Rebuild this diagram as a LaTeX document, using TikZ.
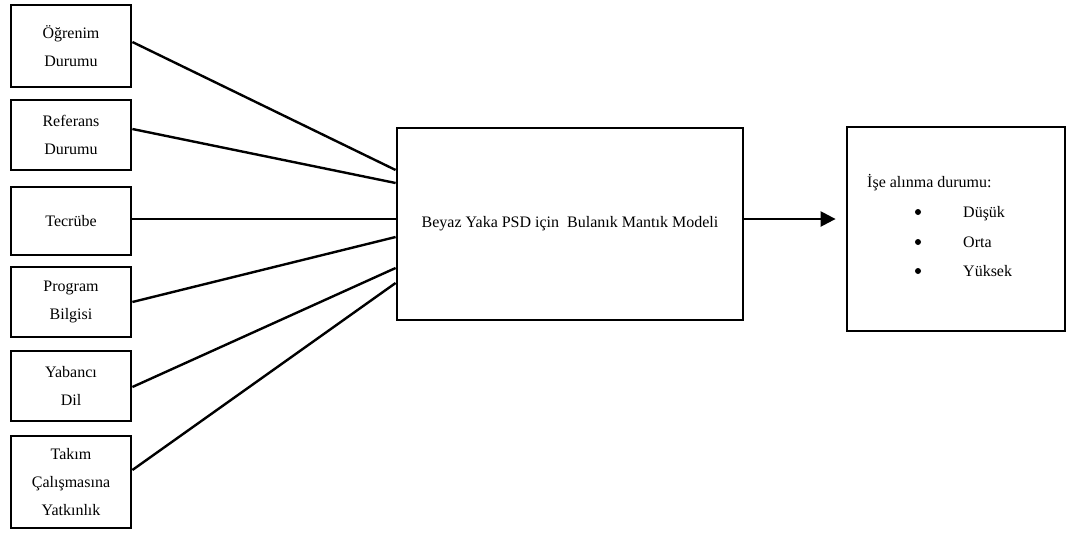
\documentclass[tikz,border=0pt]{standalone}
\usepackage{fontspec}
\setmainfont{Liberation Serif}
\usetikzlibrary{arrows.meta}
\begin{document}
\begin{tikzpicture}[x=1pt,y=-1pt,
  font=\fontsize{16}{28}\selectfont,
  inbox/.style={draw,line width=2.8pt,align=center,minimum width=120pt,inner sep=0pt},
  bigbox/.style={draw,line width=2.8pt,inner sep=0pt},
  link/.style={line width=2.4pt},
  label/.style={anchor=base west,inner sep=0pt},
  dot/.style={circle,fill,inner sep=0pt,minimum size=6pt}]
\useasboundingbox (0,0) rectangle (1070,536);

% input factors
\node[inbox,minimum height=82pt] (b1) at (71,46)  {Öğrenim\\Durumu};
\node[inbox,minimum height=70pt] (b2) at (71,135) {Referans\\Durumu};
\node[inbox,minimum height=68pt] (b3) at (71,221) {Tecrübe};
\node[inbox,minimum height=70pt] (b4) at (71,302) {Program\\Bilgisi};
\node[inbox,minimum height=70pt] (b5) at (71,386) {Yabancı\\Dil};
\node[inbox,minimum height=92pt] (b6) at (71,482) {Takım\\Çalışmasına\\Yatkınlık};

% fuzzy model
\node[bigbox,minimum width=346pt,minimum height=192pt] (model) at (570,224)
  {Beyaz Yaka PSD için\ \ Bulanık Mantık Modeli};

% output
\node[bigbox,minimum width=218pt,minimum height=204pt] (out) at (956,229) {};
\node[label] (ot) at (867,187) {İşe alınma durumu:};
\node[label] (o1) at (963,217) {Düşük};
\node[label] (o2) at (963,247) {Orta};
\node[label] (o3) at (963,276) {Yüksek};
\node[dot] (d1) at (918,212) {};
\node[dot] (d2) at (918,242) {};
\node[dot] (d3) at (918,271) {};

% connectors
\draw[link] ([yshift=4pt]b1.east)  -- ([yshift=54pt]model.west);
\draw[link] ([yshift=6pt]b2.east)  -- ([yshift=41pt]model.west);
\draw[link] ([yshift=2pt]b3.east)  -- ([yshift=5pt]model.west);
\draw[link] (b4.east)              -- ([yshift=-13pt]model.west);
\draw[link] ([yshift=-1pt]b5.east) -- ([yshift=-44pt]model.west);
\draw[link] ([yshift=12pt]b6.east) -- ([yshift=-59pt]model.west);

\coordinate (tip) at ([xshift=-10pt,yshift=10pt]out.west);
\draw[link,-{Triangle[length=15pt,width=15pt]}] ([yshift=5pt]model.east) -- (tip);
\end{tikzpicture}
\end{document}
